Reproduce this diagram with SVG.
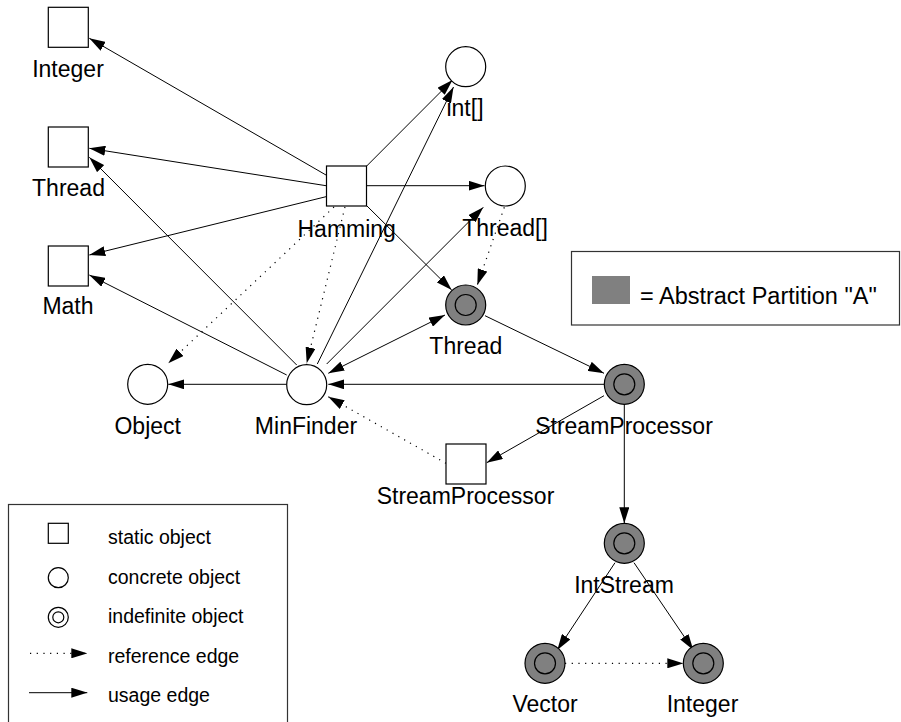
<svg xmlns="http://www.w3.org/2000/svg" width="901" height="722" viewBox="0 0 901 722">
  <style>
    text { font-family: "Liberation Sans", Arial, Helvetica, sans-serif; fill: #000; }
    .lbl { font-size: 23px; text-anchor: middle; }
    .leg { font-size: 19.5px; }
    .static { fill: #fff; stroke: #000; stroke-width: 1.2; }
    .concrete { fill: #fff; stroke: #000; stroke-width: 1.2; }
    .indef { fill: #808080; stroke: #000; stroke-width: 1.2; }
    .use { fill: none; stroke: #000; stroke-width: 1; marker-end: url(#arrow); }
    .ref { fill: none; stroke: #000; stroke-width: 1.2; stroke-dasharray: 1.2 5.5; marker-end: url(#arrow); }
    .box { fill: #fff; stroke: #333; stroke-width: 1.2; }
  </style>
  <defs>
    <marker id="arrow" viewBox="0 0 16 10" refX="16" refY="5" markerWidth="16" markerHeight="10" markerUnits="userSpaceOnUse" orient="auto-start-reverse">
      <path d="M0,0 L16,5 L0,10 z" fill="#000"/>
    </marker>
  </defs>

  <rect width="901" height="722" fill="#fff"/>

  <!-- partition legend -->
  <g id="partition-legend">
    <rect class="box" x="571.5" y="251.5" width="328" height="73.5"/>
    <rect x="592" y="276" width="38" height="28" fill="#808080"/>
    <text x="640" y="304" style="font-size:23.5px">= Abstract Partition "A"</text>
  </g>

  <!-- connectors -->
  <g id="connectors">
    <path class="use" d="M326,175 L89.3,38.3"/>
    <path class="use" d="M326,185.7 L89.3,148.3"/>
    <path class="use" d="M326,196.7 L89.3,255"/>
    <path class="use" d="M366.7,166 L452.5,80"/>
    <path class="use" d="M366.7,185.7 L484.5,185.7"/>
    <path class="use" d="M366.7,205.7 L451.7,290"/>
    <path class="use" d="M296.7,365 L89.3,157.3"/>
    <path class="use" d="M286.7,375 L89.3,275"/>
    <path class="use" d="M317.3,364 L453.5,87"/>
    <path class="use" d="M326.7,364 L483.3,207.3"/>
    <path class="use" style="marker-start:url(#arrow)" d="M328.3,373.3 L445,315"/>
    <path class="use" d="M485,315.7 L604,373.3"/>
    <path class="use" d="M604,384.3 L328.3,384.3"/>
    <path class="use" d="M286.7,384.3 L168.3,384.3"/>
    <path class="use" d="M604,395.7 L486.7,462.7"/>
    <path class="use" d="M624.3,404.3 L624.3,523.3"/>
    <path class="use" d="M615,562.7 L557.3,650"/>
    <path class="use" d="M634,562.7 L693.3,650"/>
    <path class="ref" d="M334,207 L168.3,363.3"/>
    <path class="ref" d="M345,207 L306.7,363.3"/>
    <path class="ref" d="M504.3,207.3 L477.3,285"/>
    <path class="ref" d="M446,463.3 L328.3,396.7"/>
    <path class="ref" d="M565,663.3 L683.3,663.3"/>
  </g>

  <!-- static objects -->
  <g id="integer-static">
    <rect class="static" x="48.3" y="7.3" width="40" height="40"/>
    <text class="lbl" x="68" y="77">Integer</text>
  </g>
  <g id="thread-static">
    <rect class="static" x="48.3" y="127" width="40" height="40"/>
    <text class="lbl" x="68.5" y="196">Thread</text>
  </g>
  <g id="math-static">
    <rect class="static" x="48.3" y="246" width="40" height="40"/>
    <text class="lbl" x="68" y="314">Math</text>
  </g>
  <g id="hamming">
    <rect class="static" x="326.5" y="166" width="40" height="40"/>
    <text class="lbl" x="346.7" y="237">Hamming</text>
  </g>
  <g id="streamprocessor-static">
    <rect class="static" x="446" y="444" width="40" height="40"/>
    <text class="lbl" x="465.5" y="504">StreamProcessor</text>
  </g>

  <!-- concrete objects -->
  <g id="int-array">
    <circle class="concrete" cx="465.7" cy="66.7" r="20"/>
    <text class="lbl" x="465" y="116">int[]</text>
  </g>
  <g id="thread-array">
    <circle class="concrete" cx="505.3" cy="186" r="20"/>
    <text class="lbl" x="505" y="236">Thread[]</text>
  </g>
  <g id="object">
    <circle class="concrete" cx="147.7" cy="384.3" r="20"/>
    <text class="lbl" x="147.7" y="434">Object</text>
  </g>
  <g id="minfinder">
    <circle class="concrete" cx="306.7" cy="384.7" r="20"/>
    <text class="lbl" x="306" y="434">MinFinder</text>
  </g>

  <!-- indefinite objects -->
  <g id="thread-indef">
    <circle class="indef" cx="465.7" cy="305" r="20"/>
    <circle class="indef" cx="465.7" cy="305" r="10.5"/>
    <text class="lbl" x="465.8" y="354">Thread</text>
  </g>
  <g id="streamprocessor-indef">
    <circle class="indef" cx="624.3" cy="384.3" r="20"/>
    <circle class="indef" cx="624.3" cy="384.3" r="10.5"/>
    <text class="lbl" x="624" y="434">StreamProcessor</text>
  </g>
  <g id="intstream">
    <circle class="indef" cx="624.3" cy="543.3" r="20"/>
    <circle class="indef" cx="624.3" cy="543.3" r="10.5"/>
    <text class="lbl" x="624" y="593">IntStream</text>
  </g>
  <g id="vector">
    <circle class="indef" cx="545" cy="663.3" r="20"/>
    <circle class="indef" cx="545" cy="663.3" r="10.5"/>
    <text class="lbl" x="545" y="712">Vector</text>
  </g>
  <g id="integer-indef">
    <circle class="indef" cx="703.3" cy="663.3" r="20"/>
    <circle class="indef" cx="703.3" cy="663.3" r="10.5"/>
    <text class="lbl" x="702.5" y="712">Integer</text>
  </g>

  <!-- symbol legend -->
  <g id="symbol-legend">
    <rect class="box" x="8.5" y="504.5" width="279" height="222"/>
    <rect class="static" x="48.3" y="523.3" width="20" height="20"/>
    <text class="leg" x="108" y="544">static object</text>
    <circle class="concrete" cx="58.3" cy="577.7" r="10"/>
    <text class="leg" x="108" y="583.5">concrete object</text>
    <circle fill="#fff" stroke="#000" stroke-width="1.2" cx="58.3" cy="617.3" r="10"/>
    <circle fill="#fff" stroke="#000" stroke-width="1.2" cx="58.3" cy="617.3" r="5.5"/>
    <text class="leg" x="108" y="623">indefinite object</text>
    <path class="ref" d="M30,653.3 L87.3,653.3"/>
    <text class="leg" x="108" y="662.5">reference edge</text>
    <path class="use" d="M29,692.7 L87.3,692.7"/>
    <text class="leg" x="108" y="702">usage edge</text>
  </g>
</svg>
